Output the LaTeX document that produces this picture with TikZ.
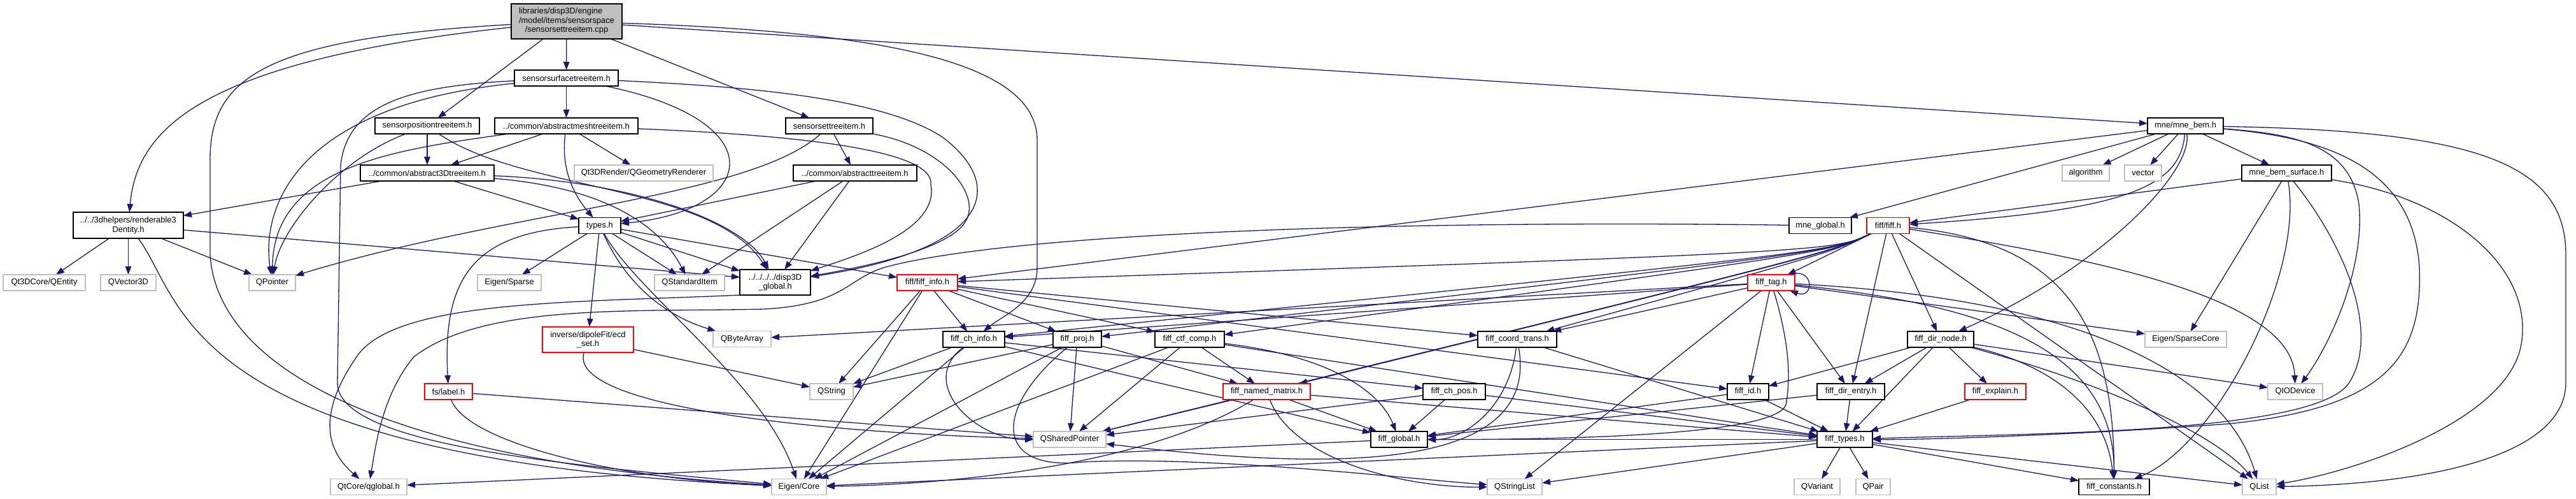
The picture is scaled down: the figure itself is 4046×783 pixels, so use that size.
\documentclass[tikz,border=0pt]{standalone}
\usepackage{fontspec}
\setmainfont{Liberation Sans}
\usetikzlibrary{arrows.meta}
\definecolor{edgec}{HTML}{191970}
\definecolor{extgray}{HTML}{BFBFBF}
\definecolor{rootfill}{HTML}{BFBFBF}
\newcommand\dfont{\fontsize{12.9pt}{14.5pt}\selectfont}
\pgfdeclarelayer{edges}
\pgfsetlayers{edges,main}
\tikzset{
  nb/.style={draw=black, line width=1.6pt, fill=white, inner sep=0pt, outer sep=0pt,
             minimum height=25pt, font=\dfont, align=center, text=black},
  ng/.style={nb, draw=extgray},
  nr/.style={nb, draw=red},
  ee/.style={draw=edgec, line width=1.3pt, -{Triangle[length=13pt,width=9.5pt]}},
}
\begin{document}
\begin{tikzpicture}[x=1pt,y=-1pt]
\useasboundingbox (0,0) rectangle (4046,783);
% ---------------- nodes ----------------
\node[nb, fill=rootfill, minimum width=174pt, minimum height=55pt] (main) at (890,33.5)
  {\begin{tabular}{@{}l@{}}libraries/disp3D/engine\\/model/items/sensorspace\\\multicolumn{1}{@{}c@{}}{/sensorsettreeitem.cpp}\end{tabular}};
\node[nb, minimum width=163pt] (surf) at (889.5,122.5) {sensorsurfacetreeitem.h};
\node[nb, minimum width=164pt] (pos) at (671,197.5) {sensorpositiontreeitem.h};
\node[nb, minimum width=225pt] (mesh) at (889.5,197.5) {../common/abstractmeshtreeitem.h};
\node[nb, minimum width=137pt] (set) at (1302.5,197.5) {sensorsettreeitem.h};
\node[nb, minimum width=210pt] (a3d) at (671,271.5) {../common/abstract3Dtreeitem.h};
\node[ng, minimum width=218pt] (qgeom) at (1011,271.5) {Qt3DRender/QGeometryRenderer};
\node[nb, minimum width=194pt] (atree) at (1343,271.5) {../common/abstracttreeitem.h};
\node[nb, minimum width=173pt, minimum height=41pt] (rend) at (201.5,353.5) {../../3dhelpers/renderable3\\Dentity.h};
\node[nb, minimum width=66pt] (types) at (942,354) {types.h};
\node[nb, minimum width=119pt] (mnebem) at (3432.5,197.5) {mne/mne\_bem.h};
\node[ng, minimum width=74pt] (algorithm) at (3276,271.5) {algorithm};
\node[ng, minimum width=58pt] (vector) at (3366,271.5) {vector};
\node[nb, minimum width=141pt] (bemsurf) at (3591.5,271.5) {mne\_bem\_surface.h};
\node[nb, minimum width=98pt] (mneglobal) at (2859,354) {mne\_global.h};
\node[nr, minimum width=67pt] (fiff) at (2965.5,354) {fiff/fiff.h};
\node[ng, minimum width=129pt] (qentity) at (69.5,443.5) {Qt3DCore/QEntity};
\node[ng, minimum width=87pt] (qvec) at (201.5,443.5) {QVector3D};
\node[ng, minimum width=73pt] (qpointer) at (427.5,443.5) {QPointer};
\node[ng, minimum width=100pt] (eigsparse) at (800,443.5) {Eigen/Sparse};
\node[ng, minimum width=110pt] (qstditem) at (1083,443.5) {QStandardItem};
\node[nb, minimum width=111pt, minimum height=40pt] (disp3dglobal) at (1217.5,443) {../../../../disp3D\\\_global.h};
\node[nr, minimum width=95pt] (fiffinfo) at (1456.5,443.5) {fiff/fiff\_info.h};
\node[nr, minimum width=74pt] (fifftag) at (2782,443.5) {fiff\_tag.h};
\node[nr, minimum width=143pt, minimum height=40pt] (ecd) at (923.5,533) {inverse/dipoleFit/ecd\\\_set.h};
\node[ng, minimum width=91pt] (qbytearray) at (1165.5,532) {QByteArray};
\node[nb, minimum width=97pt] (chinfo) at (1529.5,532.5) {fiff\_ch\_info.h};
\node[nb, minimum width=76pt] (proj) at (1692,532.5) {fiff\_proj.h};
\node[nb, minimum width=109pt] (ctf) at (1868.5,532.5) {fiff\_ctf\_comp.h};
\node[nb, minimum width=124pt] (coordtrans) at (2383,532.5) {fiff\_coord\_trans.h};
\node[nb, minimum width=104pt] (dirnode) at (3048,532.5) {fiff\_dir\_node.h};
\node[ng, minimum width=128pt] (sparsecore) at (3433,532.5) {Eigen/SparseCore};
\node[nr, minimum width=75pt] (label) at (704.5,614.5) {fs/label.h};
\node[ng, minimum width=68pt] (qstring) at (1306,614.5) {QString};
\node[nr, minimum width=137pt] (named) at (1989.5,614.5) {fiff\_named\_matrix.h};
\node[nb, minimum width=98pt] (chpos) at (2284,614.5) {fiff\_ch\_pos.h};
\node[nb, minimum width=65pt] (fiffid) at (2745.5,614.5) {fiff\_id.h};
\node[nb, minimum width=106pt] (direntry) at (2907,614.5) {fiff\_dir\_entry.h};
\node[nr, minimum width=96pt] (explain) at (3134,614.5) {fiff\_explain.h};
\node[ng, minimum width=86pt] (qiodevice) at (3605,614.5) {QIODevice};
\node[ng, minimum width=114pt] (qsharedptr) at (1680,689.5) {QSharedPointer};
\node[nb, minimum width=89pt] (fiffglobal) at (2197.5,689.5) {fiff\_global.h};
\node[nb, minimum width=87pt] (fifftypes) at (2897.5,689.5) {fiff\_types.h};
\node[ng, minimum width=120pt] (qglobal) at (579,764) {QtCore/qglobal.h};
\node[ng, minimum width=86pt] (eigencore) at (1255,764) {Eigen/Core};
\node[ng, minimum width=86pt] (qstringlist) at (2379,764) {QStringList};
\node[ng, minimum width=72pt] (qvariant) at (2854,764) {QVariant};
\node[ng, minimum width=54pt] (qpair) at (2942,764) {QPair};
\node[nb, minimum width=111pt] (constants) at (3320.5,764) {fiff\_constants.h};
\node[ng, minimum width=53pt] (qlist) at (3548.5,764) {QList};
% ---------------- edges ----------------
\begin{pgfonlayer}{edges}
\foreach \a/\b in {main/surf,main/pos,main/set,main/mnebem,surf/mesh,pos/a3d,mesh/a3d,mesh/qgeom,
  set/atree,atree/types,atree/qstditem,atree/disp3dglobal,a3d/rend,a3d/types,
  rend/qentity,rend/qvec,rend/qpointer,types/eigsparse,types/qstditem,types/disp3dglobal,
  types/ecd,types/fiffinfo,ecd/qstring,label/qsharedptr,
  fiffinfo/chinfo,fiffinfo/proj,fiffinfo/ctf,fiffinfo/coordtrans,fiffinfo/fiffid,fiffinfo/qstring,fiffinfo/eigencore,
  chinfo/qstring,chinfo/chpos,chinfo/fiffglobal,chinfo/eigencore,
  proj/qstring,proj/qsharedptr,proj/eigencore,proj/named,
  ctf/named,ctf/qsharedptr,ctf/fifftypes,ctf/eigencore,
  named/qsharedptr,named/fiffglobal,named/fifftypes,coordtrans/fifftypes,
  chpos/fiffglobal,chpos/fifftypes,chpos/qsharedptr,
  fifftag/fiffid,fifftag/direntry,fifftag/qbytearray,fifftag/chinfo,fifftag/coordtrans,fifftag/sparsecore,fifftag/qstringlist,
  dirnode/fiffid,dirnode/direntry,dirnode/explain,dirnode/fifftypes,dirnode/qiodevice,
  direntry/fifftypes,direntry/fiffglobal,fiffid/fifftypes,fiffid/fiffglobal,explain/fifftypes,
  fifftypes/qvariant,fifftypes/qpair,fifftypes/constants,fifftypes/qlist,fifftypes/eigencore,fifftypes/fiffglobal,fifftypes/qstringlist,
  fiffglobal/qglobal,mnebem/mneglobal,mnebem/algorithm,mnebem/vector,mnebem/bemsurf,mnebem/fiffinfo,
  bemsurf/fiff,bemsurf/sparsecore,fiff/fifftag,fiff/direntry,fiff/dirnode,fiff/qlist}
  \draw[ee] (\a) -- (\b);
\foreach \t in {fiffinfo,chinfo,proj,ctf,named,coordtrans,qsharedptr}
  \draw[ee] ([xshift=6pt]fiff.south west) .. controls (2880,395) .. (\t);
% main
\draw[ee] (main) .. controls (320,95) and (215,200) .. (rend);
\draw[ee] (main) .. controls (420,60) and (330,120) .. (330,250) -- (330,400) .. controls (340,560) and (560,720) .. (eigencore);
\draw[ee] (main) .. controls (1400,50) and (1629,100) .. (1629,220) -- (1629,420) .. controls (1629,475) and (1575,495) .. (chinfo);
% surf
\draw[ee] (surf) .. controls (1220,190) and (1190,330) .. (types);
\draw[ee] (surf) .. controls (470,165) and (410,320) .. (qpointer);
\draw[ee] (surf) .. controls (650,135) and (545,160) .. (535,260) -- (530,600) .. controls (528,700) and (900,730) .. (eigencore);
\draw[ee] (surf) .. controls (1150,135) and (1380,150) .. (1480,215) .. controls (1580,290) and (1560,390) .. (disp3dglobal);
% pos
\draw[ee] (pos) .. controls (530,250) and (440,360) .. (qpointer);
\draw[ee] (pos) .. controls (820,300) and (1120,290) .. (disp3dglobal);
% mesh
\draw[ee] (mesh) .. controls (880,270) and (905,310) .. (types);
\draw[ee] ([xshift=22pt]mesh.south west) .. controls (620,235) and (430,260) .. (qpointer);
\draw[ee] (mesh) .. controls (1250,212) and (1470,235) .. (1462,290) .. controls (1475,360) and (1350,400) .. (disp3dglobal);
% set
\draw[ee] (set) .. controls (1180,310) and (800,330) .. (qpointer);
\draw[ee] (set) .. controls (1480,230) and (1535,300) .. (1520,340) .. controls (1505,390) and (1350,420) .. (disp3dglobal);
% a3d
\draw[ee] (a3d) .. controls (960,295) and (1040,360) .. (qstditem);
\draw[ee] (a3d) .. controls (1000,285) and (1170,350) .. (disp3dglobal);
% rend
\draw[ee] (rend) .. controls (290,470) and (280,720) .. (eigencore);
\draw[ee] (rend) -- ([yshift=8pt]disp3dglobal.west);
% types
\draw[ee] (types) .. controls (740,365) and (695,440) .. (label);
\draw[ee] (types) .. controls (1000,460) and (1200,600) .. (eigencore);
\draw[ee] (types) .. controls (990,460) and (1060,500) .. (qbytearray);
% ecd, label
\draw[ee] (ecd) .. controls (890,640) and (1300,680) .. (qsharedptr);
\draw[ee] (label) .. controls (730,690) and (950,750) .. (eigencore);
% globals
\draw[ee] (disp3dglobal.south west) .. controls (900,475) and (620,470) .. (560,560) .. controls (505,640) and (505,700) .. (qglobal);
\draw[ee] (mneglobal) .. controls (2200,345) and (1600,365) .. (1395,418) .. controls (1330,435) and (1330,478) .. (1200,485) .. controls (1000,490) and (760,475) .. (650,560) .. controls (600,620) and (590,700) .. (qglobal);
% fiff cluster
\draw[ee] (chinfo) .. controls (1440,600) and (1530,690) .. (qsharedptr);
\draw[ee] (proj) .. controls (1560,640) and (1560,740) .. (1700,725) .. controls (1900,715) and (2200,750) .. (qstringlist);
\draw[ee] (ctf) .. controls (2100,560) and (2170,620) .. (fiffglobal);
\draw[ee] (named) .. controls (2030,720) and (2200,765) .. (qstringlist);
\draw[ee] (named) .. controls (1800,730) and (1500,760) .. (eigencore);
\draw[ee] (coordtrans) .. controls (2370,640) and (2300,690) .. (fiffglobal);
\draw[ee] (coordtrans) .. controls (2420,740) and (2100,740) .. (qsharedptr);
\draw[ee] ([xshift=-8pt]fifftag.north east) .. controls (2850,418) and (2850,470) .. ([xshift=-8pt]fifftag.south east);
\draw[ee] (fifftag) .. controls (2805,520) and (2815,580) .. (2805,635) .. controls (2790,680) and (2500,690) .. (fiffglobal);
\draw[ee] (fifftag) .. controls (3150,480) and (3320,560) .. (constants);
\draw[ee] (fifftag) .. controls (3300,470) and (3500,600) .. (qlist);
\draw[ee] (dirnode) .. controls (3250,580) and (3310,660) .. (constants);
\draw[ee] (dirnode) .. controls (3300,600) and (3480,680) .. (qlist);
% mne
\draw[ee] (mnebem) .. controls (3425,290) and (3350,330) .. (fiff);
\draw[ee] (mnebem) .. controls (3445,270) and (3300,420) .. (dirnode);
\draw[ee] (mnebem) .. controls (3900,205) and (4030,260) .. (4030,400) -- (4030,600) .. controls (4030,720) and (3800,760) .. (qlist);
\draw[ee] (mnebem) .. controls (3600,210) and (3690,225) .. (3705,320) .. controls (3715,420) and (3660,540) .. (qiodevice);
\draw[ee] (mnebem) .. controls (3650,215) and (3790,260) .. (3800,420) .. controls (3805,560) and (3750,640) .. (3500,665) .. controls (3300,680) and (3050,690) .. (fifftypes);
\draw[ee] (bemsurf) .. controls (3680,380) and (3740,520) .. (3690,600) .. controls (3640,680) and (3200,680) .. (fifftypes);
\draw[ee] (bemsurf) .. controls (3620,430) and (3480,700) .. (constants);
\draw[ee] (bemsurf) .. controls (3850,310) and (3980,420) .. (3960,540) .. controls (3940,660) and (3700,740) .. (qlist);
\draw[ee] (fiff) .. controls (3250,380) and (3320,520) .. (constants);
\draw[ee] (fiff) .. controls (3250,400) and (3600,460) .. (qiodevice);
\end{pgfonlayer}
\end{tikzpicture}
\end{document}
